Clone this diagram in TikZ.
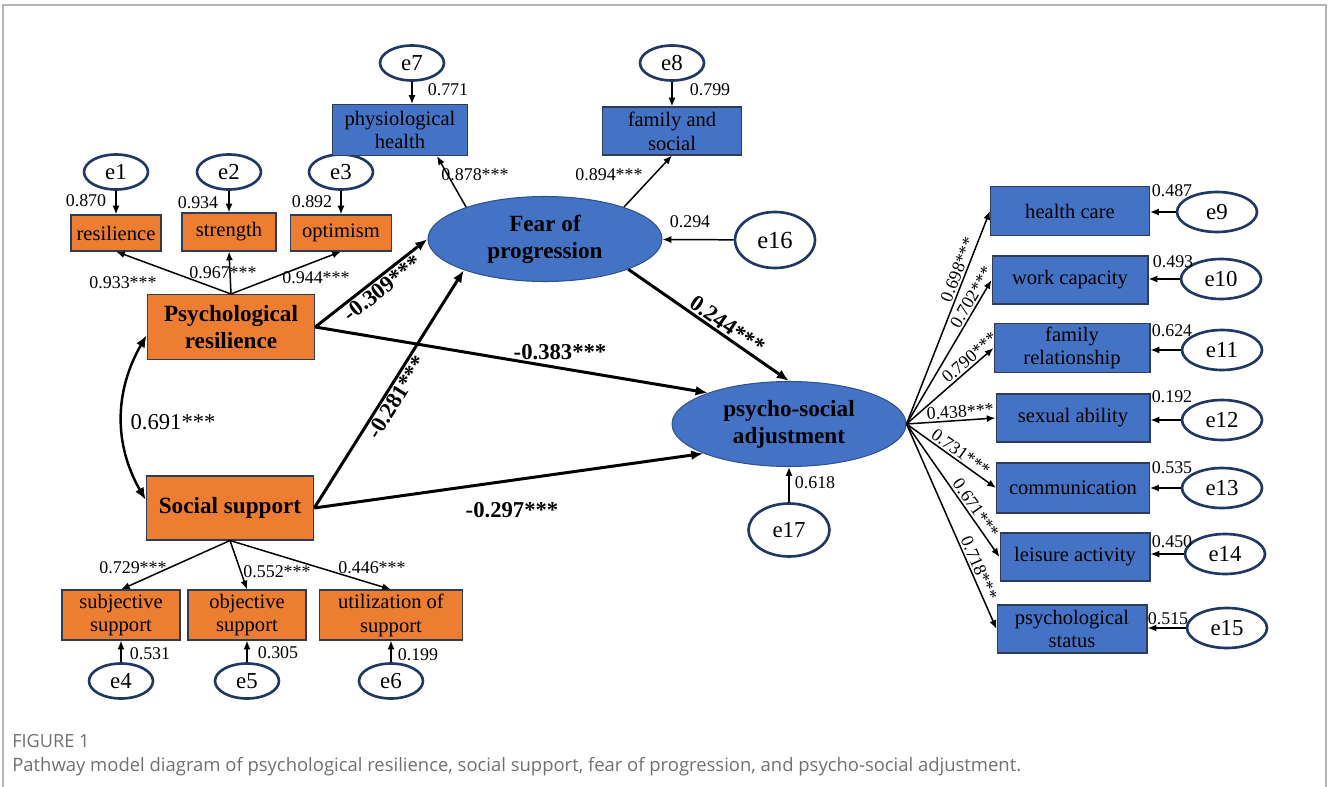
\documentclass[tikz,border=0pt]{standalone}
\usepackage{fontspec}
\setmainfont{Liberation Serif}
\newfontfamily\capfont{Open Sans}
\usetikzlibrary{shapes.geometric, arrows.meta, positioning}
\definecolor{orng}{HTML}{ED7D31}
\definecolor{blu}{HTML}{4472C4}
\definecolor{boxline}{HTML}{2F3B57}
\definecolor{navy}{HTML}{1F3864}
\definecolor{latline}{HTML}{2F528F}
\definecolor{framegray}{HTML}{B4B4B4}
\definecolor{capgray}{HTML}{707070}

\tikzset{
  ind/.style={draw=boxline, line width=0.6pt, inner sep=1pt, align=center,
    font=\fontsize{11.7}{13.6}\selectfont},
  indor/.style={ind, fill=orng},
  indbl/.style={ind, fill=blu},
  fac/.style={draw=boxline, fill=orng, line width=0.6pt, align=center,
    minimum width=3.35cm, minimum height=1.3cm,
    font=\fontsize{13.2}{15.3}\selectfont\bfseries},
  latent/.style={ellipse, draw=latline, fill=blu, line width=0.6pt, inner sep=0pt,
    minimum width=4.68cm, minimum height=1.7cm, align=center,
    font=\fontsize{13.2}{15.3}\selectfont\bfseries},
  err/.style={ellipse, draw=navy, line width=1.5pt, fill=white, inner sep=0pt,
    minimum width=1.28cm, minimum height=0.7cm, font=\fontsize{13}{15}\selectfont},
  errbig/.style={err, minimum width=1.6cm, minimum height=0.8cm},
  coef/.style={inner sep=1pt, font=\fontsize{10.2}{12}\selectfont},
  pcoef/.style={inner sep=1pt, font=\fontsize{12.9}{15}\selectfont\bfseries},
  loading/.style={line width=0.85pt, -{Latex[length=5pt,width=4pt]}},
  struct/.style={line width=1.7pt, -{Latex[length=7pt,width=5.5pt]}},
}

\begin{document}
\begin{tikzpicture}[x=0.02cm, y=-0.02cm]
  \useasboundingbox (0,0) rectangle (1328,787);
  \draw[framegray, line width=1.1pt] (3,787) -- (3,5) -- (1326,5) -- (1326,787);

  % exogenous factors
  \node[fac] (pr) at (231,327) {Psychological\\resilience};
  \node[fac, minimum height=1.28cm] (ss) at (230,508) {Social support};

  % indicators of psychological resilience
  \node[indor, minimum width=1.8cm, minimum height=0.72cm] (res) at (116,233) {resilience};
  \node[indor, minimum width=1.88cm, minimum height=0.76cm] (str) at (229,232) {strength};
  \node[indor, minimum width=2.02cm, minimum height=0.72cm] (opt) at (341,233) {optimism};
  \node[err] (e1) at (116,172) {e1};
  \node[err] (e2) at (229,172) {e2};
  \node[err] (e3) at (341,172) {e3};

  % indicators of social support
  \node[indor, minimum width=2.36cm, minimum height=1cm] (subj) at (121,615) {subjective\\support};
  \node[indor, minimum width=2.36cm, minimum height=1cm] (obj) at (247,615) {objective\\support};
  \node[indor, minimum width=2.86cm, minimum height=1cm] (util) at (391,615) {utilization of\\support};
  \node[err] (e4) at (121,681) {e4};
  \node[err] (e5) at (247,681) {e5};
  \node[err] (e6) at (391,681) {e6};

  % fear of progression
  \node[latent] (fop) at (545,239) {Fear of\\progression};
  \node[indbl, minimum width=2.7cm, minimum height=1.02cm] (phys) at (400,130) {physiological\\health};
  \node[indbl, minimum width=2.78cm, minimum height=0.96cm] (fam) at (672,131) {family and\\social};
  \node[err] (e7) at (412,63) {e7};
  \node[err] (e8) at (672,63) {e8};
  \node[err, minimum width=1.6cm, minimum height=1.12cm, font=\fontsize{14}{16}\selectfont] (e16) at (775,240) {e16};

  % psycho-social adjustment
  \node[latent] (psa) at (789,424) {psycho-social\\adjustment};
  \node[err, minimum width=1.62cm, minimum height=1.06cm] (e17) at (789,530) {e17};

  \node[indbl, minimum width=3.18cm, minimum height=0.98cm] (hc) at (1070,211) {health care};
  \node[indbl, minimum width=3.12cm, minimum height=0.96cm] (wc) at (1070,280) {work capacity};
  \node[indbl, minimum width=3.12cm, minimum height=0.98cm] (fr) at (1072,348) {family\\relationship};
  \node[indbl, minimum width=3.08cm, minimum height=0.96cm] (sa) at (1073,418) {sexual ability};
  \node[indbl, minimum width=3.06cm, minimum height=1cm] (com) at (1073,488) {communication};
  \node[indbl, minimum width=3cm, minimum height=0.96cm] (la) at (1075,557) {leisure activity};
  \node[indbl, minimum width=3cm, minimum height=0.96cm] (ps) at (1072,629) {psychological\\status};
  \node[errbig] (e9) at (1217,212) {e9};
  \node[errbig] (e10) at (1221,279) {e10};
  \node[errbig] (e11) at (1222,350) {e11};
  \node[errbig] (e12) at (1222,420) {e12};
  \node[errbig] (e13) at (1222,488) {e13};
  \node[errbig] (e14) at (1225,554) {e14};
  \node[errbig] (e15) at (1227,628) {e15};

  % loadings
  \path[loading]
    (pr.north) edge (res.south)
               edge (str.south)
               edge (opt.south)
    (ss.south) edge (subj.north)
               edge (obj.north)
               edge (util.north)
    (fop.158)  edge ([xshift=0.74cm]phys.south)
    (fop.22)   edge (fam.south)
    (psa.east) edge node[coef, sloped, above, pos=0.71] {0.698***} (hc.west)
               edge node[coef, sloped, above, pos=0.85] {0.702***} (wc.west)
               edge node[coef, sloped, above, pos=0.79] {0.790***} (fr.west)
               edge node[coef, sloped, above, pos=0.61] {0.438***} (sa.west)
               edge node[coef, sloped, above, pos=0.55] {0.731***} (com.west)
               edge node[coef, sloped, above, pos=0.67] {0.671***} (la.west)
               edge node[coef, sloped, above, pos=0.72] {0.718***} (ps.west);

  % residuals
  \path[loading]
    (e1) edge (res) (e2) edge (str) (e3) edge (opt)
    (e4) edge (subj) (e5) edge (obj) (e6) edge (util)
    (e7) edge (e7 |- phys.north) (e8) edge (fam)
    (e16) edge (fop) (e17) edge (psa)
    (e9.west) edge (e9.west -| hc.east)
    (e10.west) edge (e10.west -| wc.east)
    (e11.west) edge (e11.west -| fr.east)
    (e12.west) edge (e12.west -| sa.east)
    (e13.west) edge (e13.west -| com.east)
    (e14.west) edge (e14.west -| la.east)
    (e15.west) edge (e15.west -| ps.east);

  % structural paths
  \path[struct]
    (pr.east) edge node[pcoef, sloped, below, pos=0.54] {-0.309***} (fop.west)
              edge (psa.159)
    (ss.east) edge node[pcoef, sloped, below, pos=0.49] {-0.281***} (fop.-159)
              edge (psa.-161)
    (fop.-20) edge node[pcoef, sloped, above, pos=0.58] {0.244***} (psa.north);
  \draw[struct, {Latex[length=7pt,width=5.5pt]}-{Latex[length=7pt,width=5.5pt]}, line width=1.4pt]
    ([yshift=-0.16cm]pr.west) to[out=240, in=120] ([yshift=0.16cm]ss.west);

  % coefficient labels
  \node[coef] (l1) at (86,201) {0.870};
  \node[coef] (l2) at (198,203) {0.934};
  \node[coef] (l3) at (312,202) {0.892};
  \node[coef] (l4) at (123,283) {0.933***};
  \node[coef] (l5) at (223,273) {0.967***};
  \node[coef] (l6) at (316,278) {0.944***};
  \node[coef] (l7) at (133,568) {0.729***};
  \node[coef] (l8) at (277,572) {0.552***};
  \node[coef] (l9) at (372,568) {0.446***};
  \node[coef] (l10) at (150,654) {0.531};
  \node[coef] (l11) at (278,653) {0.305};
  \node[coef] (l12) at (418,655) {0.199};
  \node[coef] (l13) at (448,90) {0.771};
  \node[coef] (l14) at (710,90) {0.799};
  \node[coef] (l15) at (475,175) {0.878***};
  \node[coef] (l16) at (609,175) {0.894***};
  \node[coef] (l17) at (690,222) {0.294};
  \node[coef] (l18) at (815,483) {0.618};
  \node[coef] (l19) at (1172,191) {0.487};
  \node[coef] (l20) at (1173,262) {0.493};
  \node[coef] (l21) at (1172,331) {0.624};
  \node[coef] (l22) at (1172,397) {0.192};
  \node[coef] (l23) at (1172,468) {0.535};
  \node[coef] (l24) at (1172,542) {0.450};
  \node[coef] (l25) at (1168,619) {0.515};
  \node[pcoef] (l26) at (560,352) {-0.383***};
  \node[pcoef] (l27) at (512,510) {-0.297***};
  \node[coef, font=\fontsize{12.9}{15}\selectfont] (l28) at (173,422) {0.691***};

  % caption
  \node[anchor=west, inner sep=0pt, text=capgray, font=\capfont\fontsize{10.3}{12}\selectfont] (fig) at (12,741) {FIGURE 1};
  \node[anchor=west, inner sep=0pt, text=capgray, font=\capfont\fontsize{10.5}{12}\selectfont] (cap) at (12,767)
    {Pathway model diagram of psychological resilience, social support, fear of progression, and psycho-social adjustment.};
\end{tikzpicture}
\end{document}
